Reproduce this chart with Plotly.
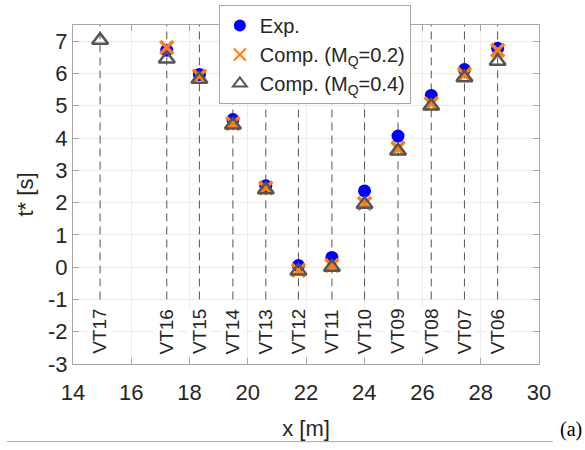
import plotly.graph_objects as go

# gauge names and positions along the channel
gauges = ["VT17", "VT16", "VT15", "VT14", "VT13", "VT12",
          "VT11", "VT10", "VT09", "VT08", "VT07", "VT06"]
x_pos = [14.93, 17.22, 18.34, 19.49, 20.62, 21.74,
         22.89, 24.01, 25.16, 26.30, 27.44, 28.58]

# arrival times t* [s]; None where no value
t_exp = [None, 6.72, 5.97, 4.57, 2.52, 0.05,
         0.30, 2.36, 4.06, 5.32, 6.12, 6.78]
t_comp02 = [None, 6.80, 5.92, 4.45, 2.45, -0.10,
            0.05, 1.97, 3.68, 5.06, 5.97, 6.72]
t_comp04 = [7.03, 6.45, 5.82, 4.40, 2.40, -0.12,
            0.00, 1.95, 3.60, 4.99, 5.87, 6.38]

x_ticks = [14, 16, 18, 20, 22, 24, 26, 28, 30]
y_ticks = [-3, -2, -1, 0, 1, 2, 3, 4, 5, 6, 7]
y_ticktext = ["-3", "-2", "-1", "0", "1", "2", "3", "4", "5", "6", "7"]

line_bottom = -1.0
line_top = 7.5

FONT = "Liberation Sans, Arial, sans-serif"
TXT = "#262626"

fig = go.Figure()

# dashed vertical lines at each gauge
lx, ly = [], []
for xv in x_pos:
    lx += [xv, xv, None]
    ly += [line_bottom, line_top, None]
fig.add_trace(go.Scatter(
    x=lx, y=ly, mode="lines", showlegend=False, hoverinfo="skip",
    line=dict(color="#555555", width=1, dash="8px,5px")))

fig.add_trace(go.Scatter(
    x=x_pos, y=t_exp, mode="markers", name="Exp.",
    marker=dict(symbol="circle", size=13, color="#0000ff")))
fig.add_trace(go.Scatter(
    x=x_pos, y=t_comp02, mode="markers", name="Comp. (M<sub>Q</sub>=0.2)",
    marker=dict(symbol="x-thin-open", size=13, color="#ff7f0e",
                line=dict(color="#ff7f0e", width=3.5))))
fig.add_trace(go.Scatter(
    x=x_pos, y=t_comp04, mode="markers", name="Comp. (M<sub>Q</sub>=0.4)",
    marker=dict(symbol="triangle-up-open", size=14, color="#555555",
                line=dict(color="#555555", width=2.5))))

# gauge labels
for name, xv in zip(gauges, x_pos):
    fig.add_annotation(x=xv, y=-2, text=name, textangle=-90, showarrow=False,
                       font=dict(family=FONT, size=19, color=TXT),
                       bgcolor="white", borderpad=1)

# figure caption rule and label
fig.add_shape(type="line", xref="paper", yref="paper",
              x0=-0.142, x1=1.03, y0=-0.229, y1=-0.229,
              line=dict(color="#aaaaaa", width=1))
fig.add_annotation(xref="paper", yref="paper", x=1.0966, y=-0.234,
                   xanchor="right", yanchor="bottom", text="(a)", showarrow=False,
                   font=dict(family="Liberation Serif, Times New Roman, serif",
                             size=20, color="black"))

axis_common = dict(
    showline=True, linecolor="#a6a6a6", linewidth=1, mirror="ticks",
    ticks="inside", ticklen=6, tickcolor="#a6a6a6",
    showgrid=True, gridcolor="#ebebeb", zeroline=False, automargin=False,
    tickfont=dict(family=FONT, size=22, color=TXT),
)

fig.update_layout(
    width=585, height=450,
    margin=dict(l=73, r=46, t=25, b=86, autoexpand=False),
    paper_bgcolor="white", plot_bgcolor="white",
    font=dict(family=FONT, color=TXT),
    xaxis=dict(range=[14, 30], tickvals=x_ticks, ticklabelstandoff=9,
               title=dict(text="x [m]", font=dict(family=FONT, size=22, color=TXT),
                          standoff=16),
               **axis_common),
    yaxis=dict(range=[-3, 7.5], tickvals=y_ticks, ticktext=y_ticktext,
               title=dict(text="t* [s]", font=dict(family=FONT, size=22, color=TXT),
                          standoff=8),
               **axis_common),
    legend=dict(x=0.313, y=1.059, xanchor="left", yanchor="top",
                bgcolor="white", bordercolor="#a6a6a6", borderwidth=1,
                font=dict(family=FONT, size=20, color=TXT),
                itemsizing="constant"),
    showlegend=True,
)

# the page's default body margin would shift the figure by 8px
fig.write_html("out.html", config={"displayModeBar": False},
               post_script="document.body.style.margin = '0px';")
